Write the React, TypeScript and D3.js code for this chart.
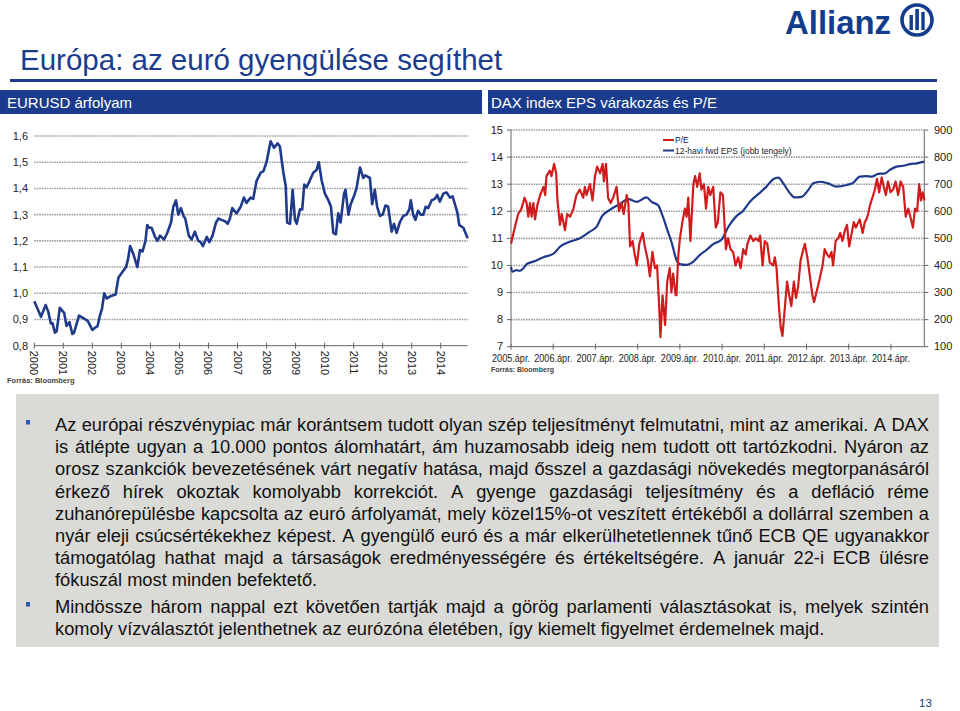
import React from 'react';
import * as d3 from 'd3';

// ---------- DATA ----------
const eurYears = [2000.00, 2000.23, 2000.39, 2000.48, 2000.57, 2000.63, 2000.71, 2000.77, 2000.88, 2000.95, 2001.03, 2001.11, 2001.21, 2001.31, 2001.37, 2001.54, 2001.69, 2001.84, 2002.00, 2002.11, 2002.18, 2002.26, 2002.33, 2002.41, 2002.49, 2002.64, 2002.80, 2002.90, 2003.03, 2003.16, 2003.23, 2003.30, 2003.41, 2003.55, 2003.64, 2003.73, 2003.83, 2003.89, 2003.96, 2004.04, 2004.16, 2004.24, 2004.33, 2004.47, 2004.58, 2004.71, 2004.79, 2004.88, 2004.96, 2005.05, 2005.14, 2005.20, 2005.32, 2005.42, 2005.53, 2005.65, 2005.73, 2005.81, 2005.94, 2006.03, 2006.14, 2006.26, 2006.34, 2006.45, 2006.57, 2006.66, 2006.74, 2006.82, 2006.97, 2007.11, 2007.22, 2007.31, 2007.45, 2007.54, 2007.66, 2007.80, 2007.89, 2008.00, 2008.14, 2008.26, 2008.38, 2008.46, 2008.58, 2008.66, 2008.71, 2008.81, 2008.90, 2008.98, 2009.04, 2009.15, 2009.23, 2009.30, 2009.38, 2009.49, 2009.61, 2009.72, 2009.80, 2009.90, 2010.01, 2010.13, 2010.22, 2010.30, 2010.39, 2010.47, 2010.55, 2010.67, 2010.72, 2010.82, 2010.90, 2011.01, 2011.10, 2011.22, 2011.33, 2011.40, 2011.56, 2011.64, 2011.73, 2011.81, 2011.91, 2012.00, 2012.10, 2012.19, 2012.31, 2012.39, 2012.48, 2012.59, 2012.71, 2012.82, 2012.92, 2012.97, 2013.05, 2013.13, 2013.22, 2013.31, 2013.40, 2013.48, 2013.57, 2013.69, 2013.80, 2013.88, 2013.97, 2014.09, 2014.20, 2014.32, 2014.41, 2014.57, 2014.64, 2014.78, 2014.93];
const eurValues = [0.97, 0.91, 0.955, 0.93, 0.885, 0.885, 0.85, 0.855, 0.945, 0.935, 0.925, 0.875, 0.89, 0.845, 0.85, 0.915, 0.905, 0.895, 0.86, 0.87, 0.875, 0.915, 0.94, 1.0, 0.98, 0.99, 0.995, 1.06, 1.08, 1.1, 1.13, 1.18, 1.15, 1.1, 1.165, 1.16, 1.2, 1.26, 1.25, 1.25, 1.215, 1.2, 1.22, 1.205, 1.23, 1.27, 1.33, 1.355, 1.3, 1.325, 1.295, 1.285, 1.22, 1.205, 1.235, 1.2, 1.195, 1.18, 1.215, 1.195, 1.22, 1.27, 1.285, 1.28, 1.275, 1.265, 1.285, 1.325, 1.305, 1.33, 1.365, 1.345, 1.365, 1.36, 1.43, 1.46, 1.465, 1.5, 1.58, 1.555, 1.572, 1.56, 1.46, 1.41, 1.27, 1.265, 1.395, 1.28, 1.265, 1.32, 1.32, 1.415, 1.405, 1.43, 1.46, 1.47, 1.5, 1.43, 1.38, 1.355, 1.33, 1.23, 1.225, 1.305, 1.27, 1.38, 1.395, 1.3, 1.34, 1.37, 1.4, 1.48, 1.44, 1.45, 1.44, 1.34, 1.395, 1.33, 1.295, 1.3, 1.335, 1.33, 1.235, 1.265, 1.23, 1.27, 1.295, 1.3, 1.32, 1.355, 1.3, 1.28, 1.315, 1.3, 1.3, 1.33, 1.325, 1.355, 1.36, 1.375, 1.35, 1.38, 1.385, 1.365, 1.37, 1.31, 1.26, 1.25, 1.21];
const eurXTicks = [2000, 2001, 2002, 2003, 2004, 2005, 2006, 2007, 2008, 2009, 2010, 2011, 2012, 2013, 2014];
const eurYTicks = [0.8, 0.9, 1.0, 1.1, 1.2, 1.3, 1.4, 1.5, 1.6];

const peYears = [2005.25, 2005.28, 2005.34, 2005.42, 2005.50, 2005.57, 2005.62, 2005.66, 2005.70, 2005.74, 2005.78, 2005.82, 2005.87, 2005.94, 2006.02, 2006.06, 2006.09, 2006.17, 2006.21, 2006.27, 2006.32, 2006.35, 2006.41, 2006.45, 2006.53, 2006.58, 2006.65, 2006.73, 2006.80, 2006.88, 2006.96, 2007.00, 2007.04, 2007.12, 2007.18, 2007.24, 2007.29, 2007.36, 2007.42, 2007.45, 2007.50, 2007.55, 2007.61, 2007.67, 2007.75, 2007.81, 2007.87, 2007.92, 2007.99, 2008.03, 2008.07, 2008.13, 2008.17, 2008.23, 2008.29, 2008.37, 2008.42, 2008.49, 2008.54, 2008.60, 2008.66, 2008.71, 2008.76, 2008.79, 2008.84, 2008.90, 2008.95, 2009.01, 2009.05, 2009.09, 2009.15, 2009.17, 2009.21, 2009.25, 2009.31, 2009.37, 2009.41, 2009.45, 2009.50, 2009.57, 2009.61, 2009.66, 2009.72, 2009.76, 2009.82, 2009.87, 2009.92, 2009.97, 2010.04, 2010.10, 2010.15, 2010.21, 2010.27, 2010.34, 2010.39, 2010.45, 2010.51, 2010.57, 2010.63, 2010.69, 2010.75, 2010.81, 2010.85, 2010.92, 2010.99, 2011.05, 2011.11, 2011.15, 2011.21, 2011.26, 2011.32, 2011.38, 2011.46, 2011.50, 2011.54, 2011.60, 2011.64, 2011.68, 2011.74, 2011.79, 2011.84, 2011.89, 2011.95, 2012.00, 2012.05, 2012.11, 2012.16, 2012.21, 2012.27, 2012.33, 2012.39, 2012.43, 2012.50, 2012.56, 2012.63, 2012.68, 2012.74, 2012.79, 2012.84, 2012.88, 2012.94, 2013.00, 2013.05, 2013.10, 2013.16, 2013.21, 2013.26, 2013.31, 2013.37, 2013.42, 2013.45, 2013.51, 2013.58, 2013.63, 2013.67, 2013.71, 2013.75, 2013.81, 2013.87, 2013.92, 2013.97, 2014.03, 2014.08, 2014.13, 2014.18, 2014.24, 2014.30, 2014.36, 2014.42, 2014.48, 2014.54, 2014.60, 2014.66, 2014.71, 2014.77, 2014.82, 2014.87, 2014.92, 2014.96, 2015.00, 2015.04];
const peValues = [10.8, 11.0, 11.4, 11.9, 12.1, 12.5, 12.3, 11.8, 12.3, 11.8, 12.3, 11.7, 12.2, 12.6, 12.9, 12.6, 13.3, 13.5, 13.3, 13.75, 13.4, 12.4, 11.5, 11.9, 11.3, 11.9, 11.8, 12.1, 12.6, 12.8, 12.5, 12.9, 12.6, 13.0, 12.4, 13.3, 13.65, 13.4, 13.75, 13.1, 13.75, 12.5, 12.3, 12.5, 12.9, 12.0, 12.3, 11.9, 12.6, 12.3, 10.7, 10.9, 10.5, 10.0, 10.8, 11.2, 10.7, 10.2, 9.6, 10.5, 9.9, 10.0, 8.5, 7.35, 8.9, 7.8, 9.4, 9.9, 9.0, 9.7, 8.9, 8.9, 10.3, 11.0, 11.6, 12.1, 11.8, 12.5, 10.9, 13.0, 13.3, 12.9, 13.4, 12.8, 13.0, 12.1, 12.9, 12.6, 12.9, 11.4, 11.6, 12.7, 12.6, 10.6, 11.0, 10.6, 10.5, 10.0, 10.3, 9.9, 10.6, 10.4, 10.8, 11.1, 10.9, 11.0, 10.9, 11.1, 10.0, 10.9, 10.8, 10.1, 10.0, 10.3, 9.9, 8.4, 7.7, 7.4, 8.5, 9.4, 8.9, 8.5, 9.4, 8.8, 9.2, 10.2, 10.5, 10.8, 10.3, 9.6, 8.9, 8.65, 9.1, 9.5, 10.0, 10.6, 10.4, 10.3, 10.5, 10.0, 10.9, 11.0, 11.2, 10.9, 11.3, 11.5, 10.7, 11.1, 11.6, 11.4, 11.5, 11.7, 11.2, 11.6, 11.7, 11.9, 12.2, 12.5, 12.8, 13.2, 12.7, 13.25, 12.9, 12.6, 13.1, 12.7, 12.8, 13.1, 12.6, 13.1, 12.9, 11.8, 12.1, 11.8, 11.4, 12.1, 12.0, 13.0, 12.4, 12.7, 12.4];

const epsYears = [2005.25, 2005.28, 2005.38, 2005.46, 2005.54, 2005.62, 2005.78, 2006.02, 2006.27, 2006.41, 2006.65, 2006.88, 2007.12, 2007.28, 2007.40, 2007.59, 2007.83, 2008.03, 2008.23, 2008.46, 2008.58, 2008.74, 2008.82, 2008.94, 2009.06, 2009.17, 2009.25, 2009.41, 2009.57, 2009.72, 2009.88, 2010.04, 2010.24, 2010.40, 2010.59, 2010.75, 2010.91, 2011.15, 2011.30, 2011.46, 2011.58, 2011.70, 2011.86, 2011.97, 2012.13, 2012.29, 2012.41, 2012.57, 2012.76, 2012.96, 2013.20, 2013.36, 2013.51, 2013.67, 2013.79, 2013.95, 2014.11, 2014.22, 2014.38, 2014.54, 2014.70, 2014.86, 2015.04];
const epsValues = [395, 377, 383, 380, 389, 405, 414, 430, 445, 469, 488, 500, 525, 543, 580, 605, 627, 645, 635, 651, 635, 621, 592, 537, 482, 420, 405, 402, 414, 438, 457, 479, 496, 543, 582, 602, 635, 669, 691, 718, 724, 703, 666, 651, 653, 678, 703, 709, 703, 691, 697, 706, 728, 730, 728, 738, 740, 752, 765, 768, 774, 777, 783];

const daxTickYears = [2005.25, 2006.25, 2007.25, 2008.25, 2009.25, 2010.25, 2011.25, 2012.25, 2013.25, 2014.25];
const daxTickLabels = ['2005.ápr.', '2006.ápr.', '2007.ápr.', '2008.ápr.', '2009.ápr.', '2010.ápr.', '2011.ápr.', '2012.ápr.', '2013.ápr.', '2014.ápr.'];
const peTicks = [7, 8, 9, 10, 11, 12, 13, 14, 15];
const epsTicks = [100, 200, 300, 400, 500, 600, 700, 800, 900];

const bullet1Lines = [
  'Az európai részvénypiac már korántsem tudott olyan szép teljesítményt felmutatni, mint az amerikai. A DAX',
  'is átlépte ugyan a 10.000 pontos álomhatárt, ám huzamosabb ideig nem tudott ott tartózkodni. Nyáron az',
  'orosz szankciók bevezetésének várt negatív hatása, majd ősszel a gazdasági növekedés megtorpanásáról',
  'érkező hírek okoztak komolyabb korrekciót. A gyenge gazdasági teljesítmény és a defláció réme',
  'zuhanórepülésbe kapcsolta az euró árfolyamát, mely közel15%-ot veszített értékéből a dollárral szemben a',
  'nyár eleji csúcsértékekhez képest. A gyengülő euró és a már elkerülhetetlennek tűnő ECB QE ugyanakkor',
  'támogatólag hathat majd a társaságok eredményességére és értékeltségére. A január 22-i ECB ülésre',
  'fókuszál most minden befektető.',
];
const bullet2Lines = [
  'Mindössze három nappal ezt követően tartják majd a görög parlamenti választásokat is, melyek szintén',
  'komoly vízválasztót jelenthetnek az eurózóna életében, így kiemelt figyelmet érdemelnek majd.',
];

// ---------- STYLE ----------
const NAVY = '#1b3c8c';
const FONT = '"Liberation Sans", Arial, Helvetica, sans-serif';
const BODY_SIZE = 18.3;
const TEXT_LEFT = 55;
const TEXT_RIGHT = 929;

let measureCtx: CanvasRenderingContext2D | null = null;
function measure(s: string, font: string) {
  if (!measureCtx) measureCtx = document.createElement('canvas').getContext('2d');
  measureCtx!.font = font;
  return measureCtx!.measureText(s).width;
}

function JustifiedLine({ text, y, justify }: { text: string; y: number; justify: boolean }) {
  const font = `${BODY_SIZE}px ${FONT}`;
  const words = text.split(' ');
  const widths = words.map((w) => measure(w, font));
  const spaceW = measure(' ', font);
  const total = d3.sum(widths);
  const gap = justify && words.length > 1 ? (TEXT_RIGHT - TEXT_LEFT - total) / (words.length - 1) : spaceW;
  let x = TEXT_LEFT;
  return (
    <g>
      {words.map((w, i) => {
        const el = (
          <text key={i} x={x} y={y} fontSize={BODY_SIZE} fontFamily={FONT} fill="#111">
            {w}
          </text>
        );
        x += widths[i] + gap;
        return el;
      })}
    </g>
  );
}

const comma = (v: number) => d3.format('.1f')(v).replace('.', ',');

export default function App() {
  const xE = d3.scaleLinear().domain([2000, 2014.93]).range([34.3, 467.7]);
  const yE = d3.scaleLinear().domain([0.8, 1.6]).range([345.7, 136]);
  const eurLine = d3
    .line<number>()
    .x((_, i) => xE(eurYears[i]))
    .y((d) => yE(d));

  const xD = d3.scaleLinear().domain([2005.25, 2015.04]).range([511, 924.3]);
  const yPE = d3.scaleLinear().domain([7, 15]).range([346.7, 130]);
  const yEPS = d3.scaleLinear().domain([100, 900]).range([346.7, 130]);
  const peLine = d3
    .line<number>()
    .x((_, i) => xD(peYears[i]))
    .y((d) => yPE(d));
  const epsLine = d3
    .line<number>()
    .x((_, i) => xD(epsYears[i]))
    .y((d) => yEPS(d))
    .curve(d3.curveMonotoneX);

  const n = Math.min(eurYears.length, eurValues.length);
  const np = Math.min(peYears.length, peValues.length);
  const ne = Math.min(epsYears.length, epsValues.length);

  const lineH = 22.2;
  const b1y = 431;
  const b2y = 613;

  return (
    <svg
      width={960}
      height={711}
      style={{ position: 'absolute', left: 0, top: 0, background: '#fff' }}
      fontFamily={FONT}
    >
      <rect x={0} y={0} width={960} height={711} fill="#fff" />
      {/* Logo */}
      <text x={785} y={34} fontSize={33} fontWeight="bold" fill="#123c8c" textLength={106} lengthAdjust="spacingAndGlyphs">
        Allianz
      </text>
      <circle cx={917} cy={20} r={15} fill="none" stroke="#123c8c" strokeWidth={3.6} />
      <rect x={909.5} y={15} width={3.4} height={15} fill="#123c8c" />
      <rect x={915.3} y={9} width={3.6} height={21} fill="#123c8c" />
      <rect x={921.3} y={12} width={3.4} height={18} fill="#123c8c" />

      {/* Title */}
      <text x={20} y={70} fontSize={29.5} fill={NAVY}>
        Európa: az euró gyengülése segíthet
      </text>
      <rect x={10} y={79} width={927} height={3} fill={NAVY} />

      {/* Section bars */}
      <rect x={0} y={90} width={482} height={24} fill={NAVY} />
      <text x={7} y={108} fontSize={15} fill="#fff">EURUSD árfolyam</text>
      <rect x={488} y={90} width={449} height={24} fill={NAVY} />
      <text x={491} y={108} fontSize={15} fill="#fff">DAX index EPS várakozás és P/E</text>

      {/* Left chart: EURUSD */}
      <g>
        {eurYTicks.map((t) => (
          <g key={t}>
            {t > 0.8 && (
              <line x1={34.3} x2={467.7} y1={yE(t)} y2={yE(t)} stroke="#9a9a9a" strokeWidth={1.6} strokeDasharray="1.5 1" />
            )}
            <text x={28} y={yE(t) + 4} fontSize={11} textAnchor="end" fill="#222">
              {comma(t)}
            </text>
          </g>
        ))}
        <line x1={34.3} x2={467.7} y1={yE(0.8)} y2={yE(0.8)} stroke="#666" strokeWidth={1} />
        {eurXTicks.map((t) => (
          <g key={t}>
            <line x1={xE(t)} x2={xE(t)} y1={yE(0.8) - 3} y2={yE(0.8) + 3} stroke="#666" strokeWidth={1} />
            <text
              transform={`translate(${xE(t) - 4},${yE(0.8) + 5}) rotate(90)`}
              fontSize={11}
              fill="#222"
            >
              {t}
            </text>
          </g>
        ))}
        <path d={eurLine(eurValues.slice(0, n)) || ''} fill="none" stroke="#1f3a8a" strokeWidth={2.6} strokeLinejoin="round" />
        <text x={7} y={383} fontSize={7.5} fill="#444" fontWeight="bold">Forrás: Bloomberg</text>
      </g>

      {/* Right chart: DAX */}
      <g>
        {peTicks.map((t) => (
          <g key={t}>
            {t > 7 && (
              <line x1={511} x2={924.3} y1={yPE(t)} y2={yPE(t)} stroke="#9a9a9a" strokeWidth={1.6} strokeDasharray="1.5 1" />
            )}
            <line x1={507} x2={511} y1={yPE(t)} y2={yPE(t)} stroke="#666" />
            <text x={503} y={yPE(t) + 3.5} fontSize={11} textAnchor="end" fill="#222">
              {t}
            </text>
          </g>
        ))}
        {epsTicks.map((t) => (
          <g key={t}>
            <line x1={924.3} x2={928.3} y1={yEPS(t)} y2={yEPS(t)} stroke="#666" />
            <text x={934} y={yEPS(t) + 3.5} fontSize={11} fill="#222">
              {t}
            </text>
          </g>
        ))}
        <line x1={511} x2={511} y1={130} y2={346.7} stroke="#666" />
        <line x1={924.3} x2={924.3} y1={130} y2={346.7} stroke="#666" />
        <line x1={511} x2={924.3} y1={346.7} y2={346.7} stroke="#666" />
        {daxTickYears.map((t, i) => (
          <g key={t}>
            <line x1={xD(t)} x2={xD(t)} y1={343.7} y2={349.7} stroke="#666" />
            <text
              x={xD(t) - 19}
              y={361.5}
              fontSize={10.5}
              fill="#222"
              textLength={38}
              lengthAdjust="spacingAndGlyphs"
            >
              {daxTickLabels[i]}
            </text>
          </g>
        ))}
        <path d={epsLine(epsValues.slice(0, ne)) || ''} fill="none" stroke="#1f3a8a" strokeWidth={2.2} strokeLinejoin="round" />
        <path d={peLine(peValues.slice(0, np)) || ''} fill="none" stroke="#d01c1c" strokeWidth={2.2} strokeLinejoin="round" />
        {/* Legend */}
        <line x1={663} x2={674} y1={140} y2={140} stroke="#d01c1c" strokeWidth={2} />
        <text x={675} y={143} fontSize={8.5} fill="#222">P/E</text>
        <line x1={663} x2={674} y1={150.5} y2={150.5} stroke="#1f3a8a" strokeWidth={2} />
        <text x={675} y={153.5} fontSize={8.5} fill="#222">12-havi fwd EPS (jobb tengely)</text>
        <text x={491} y={372} fontSize={7} fill="#444" fontWeight="bold">Forrás: Bloomberg</text>
      </g>

      {/* Text box */}
      <rect x={16} y={394} width={923} height={253} fill="#dadad6" />
      <rect x={26} y={420} width={4} height={4.5} fill="#2f58b0" />
      <rect x={26} y={602} width={4} height={4.5} fill="#2f58b0" />
      {bullet1Lines.map((l, i) => (
        <JustifiedLine key={'a' + i} text={l} y={b1y + i * lineH} justify={i < bullet1Lines.length - 1} />
      ))}
      {bullet2Lines.map((l, i) => (
        <JustifiedLine key={'b' + i} text={l} y={b2y + i * lineH} justify={i < bullet2Lines.length - 1} />
      ))}

      {/* Page number */}
      <text x={919} y={707} fontSize={11.5} fill="#1a3a7a">13</text>
    </svg>
  );
}
